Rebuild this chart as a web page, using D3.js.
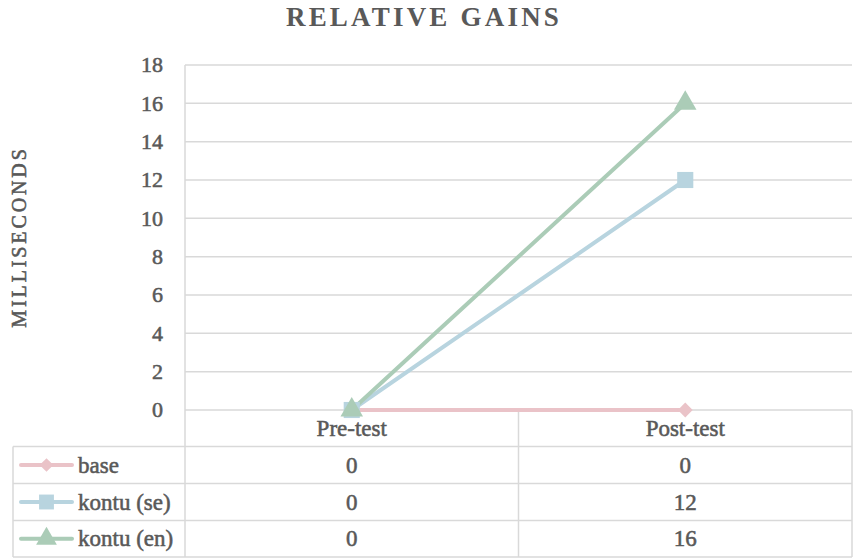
<!DOCTYPE html>
<html>
<head>
<meta charset="utf-8">
<script src="https://cdn.jsdelivr.net/npm/d3@7"></script>
<style>
  html, body { margin: 0; padding: 0; background: #fff; }
  svg text { font-family: "Liberation Serif", "DejaVu Serif", serif; fill: #595959; }
  svg text.semi { stroke: #595959; stroke-width: 0.55px; }
</style>
</head>
<body>
<svg id="chart" width="853" height="558"></svg>
<script>
// Chart data
const categories = ["Pre-test", "Post-test"];
const seriesNames = ["base", "kontu (se)", "kontu (en)"];
const baseValues = [0, 0];
const kontuSeValues = [0, 12];
const kontuEnValues = [0, 16];
const yTicks = [0, 2, 4, 6, 8, 10, 12, 14, 16, 18];
const seriesColors = ["#EAC3C8", "#B8D4DF", "#ABCCB7"];
const titleText = "RELATIVE GAINS";
const yAxisTitle = "MILLISECONDS";

// Marker shapes: rotated square (diamond), square, triangle
const seriesSymbols = [d3.symbolSquare, d3.symbolSquare, d3.symbolTriangle];
const symbolRotate = [45, 0, 0];
const markerSize = [110, 260, 220];

const series = seriesNames.map((name, i) => ({
  name,
  values: [baseValues, kontuSeValues, kontuEnValues][i],
  color: seriesColors[i],
  symbol: seriesSymbols[i],
  rotate: symbolRotate[i],
  size: markerSize[i]
}));

const svg = d3.select("#chart");
const gridColor = "#D9D9D9";
const labelSize = "23px";

const plot = { left: 185, right: 852, top: 65, bottom: 410 };
const tableLeft = 13;
const rowLines = [410, 446.5, 483.5, 520.5, 557];

const x = d3.scaleBand().domain(categories).range([plot.left, plot.right]);
const y = d3.scaleLinear().domain([0, 18]).range([plot.bottom, plot.top]);
const cx = c => x(c) + x.bandwidth() / 2;

// Title
svg.append("text")
  .attr("x", 424).attr("y", 26)
  .attr("text-anchor", "middle")
  .style("font-size", "27px")
  .style("font-weight", "bold")
  .style("letter-spacing", "3.2px")
  .text(titleText);

// Y axis title
svg.append("text")
  .attr("class", "semi")
  .attr("transform", "translate(26,237) rotate(-90)")
  .attr("text-anchor", "middle")
  .style("font-size", "20px")
  .style("letter-spacing", "2.9px")
  .text(yAxisTitle);

// Horizontal gridlines
svg.append("g").selectAll("line").data(yTicks).join("line")
  .attr("x1", plot.left).attr("x2", plot.right)
  .attr("y1", d => y(d)).attr("y2", d => y(d))
  .attr("stroke", gridColor).attr("stroke-width", 1.5);

// Y tick labels
svg.append("g").selectAll("text").data(yTicks).join("text")
  .attr("class", "semi")
  .attr("x", 163).attr("y", d => y(d))
  .attr("dy", "0.33em")
  .attr("text-anchor", "end")
  .style("font-size", "22px")
  .text(d => d);

// Table grid
const tg = svg.append("g").attr("stroke", gridColor).attr("stroke-width", 1.5);
tg.append("line").attr("x1", plot.left).attr("x2", plot.left).attr("y1", plot.top).attr("y2", 557);
tg.append("line").attr("x1", plot.left + x.bandwidth()).attr("x2", plot.left + x.bandwidth()).attr("y1", 410).attr("y2", 557);
tg.append("line").attr("x1", plot.right).attr("x2", plot.right).attr("y1", 410).attr("y2", 557);
tg.append("line").attr("x1", tableLeft).attr("x2", tableLeft).attr("y1", rowLines[1]).attr("y2", 557);
rowLines.slice(1).forEach(ry => {
  tg.append("line").attr("x1", tableLeft).attr("x2", plot.right).attr("y1", ry).attr("y2", ry);
});

// Category headers
svg.append("g").selectAll("text").data(categories).join("text")
  .attr("class", "semi")
  .attr("x", d => cx(d))
  .attr("y", (rowLines[0] + rowLines[1]) / 2)
  .attr("dy", "0.33em")
  .attr("text-anchor", "middle")
  .style("font-size", labelSize)
  .text(d => d);

// Lines and markers
const line = d3.line()
  .x((d, i) => cx(categories[i]))
  .y(d => y(d));

series.forEach(s => {
  svg.append("path")
    .attr("d", line(s.values))
    .attr("fill", "none")
    .attr("stroke", s.color)
    .attr("stroke-width", 4)
    .attr("stroke-linecap", "round")
    .attr("stroke-linejoin", "round");
});
series.forEach(s => {
  svg.append("g").selectAll("path").data(s.values).join("path")
    .attr("transform", (d, i) => `translate(${cx(categories[i])},${y(d)}) rotate(${s.rotate})`)
    .attr("d", d3.symbol().type(s.symbol).size(s.size))
    .attr("fill", s.color);
});

// Table rows: legend key + values
series.forEach((s, si) => {
  const cy = (rowLines[si + 1] + rowLines[si + 2]) / 2;
  const key = svg.append("g");
  key.append("line")
    .attr("x1", 21).attr("x2", 72).attr("y1", cy).attr("y2", cy)
    .attr("stroke", s.color).attr("stroke-width", 4).attr("stroke-linecap", "round");
  key.append("path")
    .attr("transform", `translate(46.5,${cy}) rotate(${s.rotate})`)
    .attr("d", d3.symbol().type(s.symbol).size(s.size * 0.85))
    .attr("fill", s.color);
  svg.append("text")
    .attr("class", "semi")
    .attr("x", 78).attr("y", cy).attr("dy", "0.33em")
    .style("font-size", labelSize)
    .text(s.name);
  svg.append("g").selectAll("text").data(s.values).join("text")
    .attr("class", "semi")
    .attr("x", (d, i) => cx(categories[i]))
    .attr("y", cy).attr("dy", "0.33em")
    .attr("text-anchor", "middle")
    .style("font-size", labelSize)
    .text(d => d);
});
</script>
</body>
</html>
